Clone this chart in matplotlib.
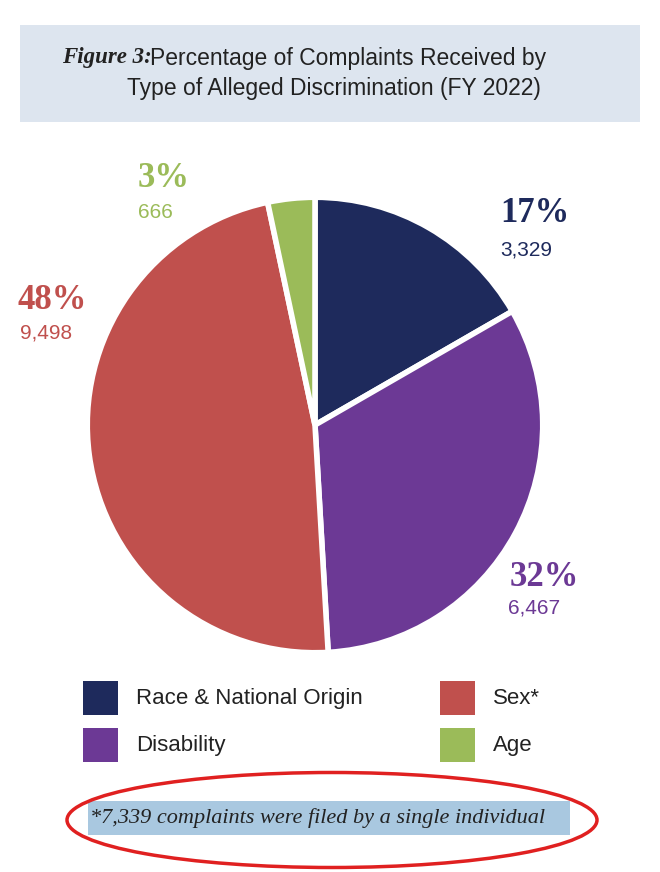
import matplotlib
matplotlib.use("Agg")
import matplotlib.pyplot as plt
from matplotlib.patches import Rectangle, Ellipse

categories = ["Race & National Origin", "Disability", "Sex*", "Age"]
counts = [3329, 6467, 9498, 666]
pct_labels = ["17%", "32%", "48%", "3%"]
count_labels = ["3,329", "6,467", "9,498", "666"]
colors = ["#1e2a5c", "#6c3995", "#c0504d", "#9bbb59"]

W, H = 660, 872
fig = plt.figure(figsize=(6.6, 8.72), dpi=100)
fig.patch.set_facecolor("white")

def fx(x): return x / W
def fy(y): return 1 - y / H

# title box
fig.patches.append(Rectangle((fx(20), fy(122)), fx(620), 97 / H, transform=fig.transFigure,
                             facecolor="#dde5ef", edgecolor="none"))
fig.text(fx(62), fy(58), "Figure 3:", fontsize=16.5, style="italic", weight="bold",
         family="Liberation Serif", color="#222222", va="center", ha="left")
fig.text(fx(150), fy(58), "Percentage of Complaints Received by", fontsize=16.5,
         family="Liberation Sans", color="#222222", va="center", ha="left")
fig.text(fx(334), fy(89), "Type of Alleged Discrimination (FY 2022)", fontsize=16.5,
         family="Liberation Sans", color="#222222", va="center", ha="center")

# pie
ax = fig.add_axes([fx(85), fy(655), 460 / W, 460 / H])
ax.pie(counts, colors=colors, startangle=90, counterclock=False,
       wedgeprops=dict(edgecolor="white", linewidth=4))
ax.set_xlim(-1.01, 1.01)
ax.set_ylim(-1.01, 1.01)
ax.set_aspect("equal")

# labels
lab_pos = [(500, 213, 500, 250, "left"), (510, 577, 508, 608, "left"),
           (18, 300, 20, 333, "left"), (138, 178, 138, 212, "left")]
for (px, py, cx, cy, ha), p, c, col in zip(lab_pos, pct_labels, count_labels, colors):
    fig.text(fx(px), fy(py), p, fontsize=25, weight="bold", family="Liberation Serif",
             color=col, ha=ha, va="center")
    fig.text(fx(cx), fy(cy), c, fontsize=15, family="Liberation Sans",
             color=col, ha=ha, va="center")

# legend
leg = [(83, 698, 0), (440, 698, 2), (83, 745, 1), (440, 745, 3)]
for x, y, i in leg:
    fig.patches.append(Rectangle((fx(x), fy(y + 17)), 35 / W, 34 / H, transform=fig.transFigure,
                                 facecolor=colors[i], edgecolor="none"))
    fig.text(fx(x + 53), fy(y), categories[i], fontsize=16, family="Liberation Sans",
             color="#222222", ha="left", va="center")

# footnote
fig.patches.append(Rectangle((fx(88), fy(835)), 482 / W, 34 / H, transform=fig.transFigure,
                             facecolor="#a9c8e0", edgecolor="none"))
fig.text(fx(90), fy(818), "*7,339 complaints were filed by a single individual", fontsize=16,
         style="italic", family="Liberation Serif", color="#222222", ha="left", va="center")
fig.patches.append(Ellipse((fx(332), fy(820)), 530 / W, 95 / H, transform=fig.transFigure,
                           facecolor="none", edgecolor="#e02020", linewidth=2.5))

fig.savefig("out.png", dpi=100)
